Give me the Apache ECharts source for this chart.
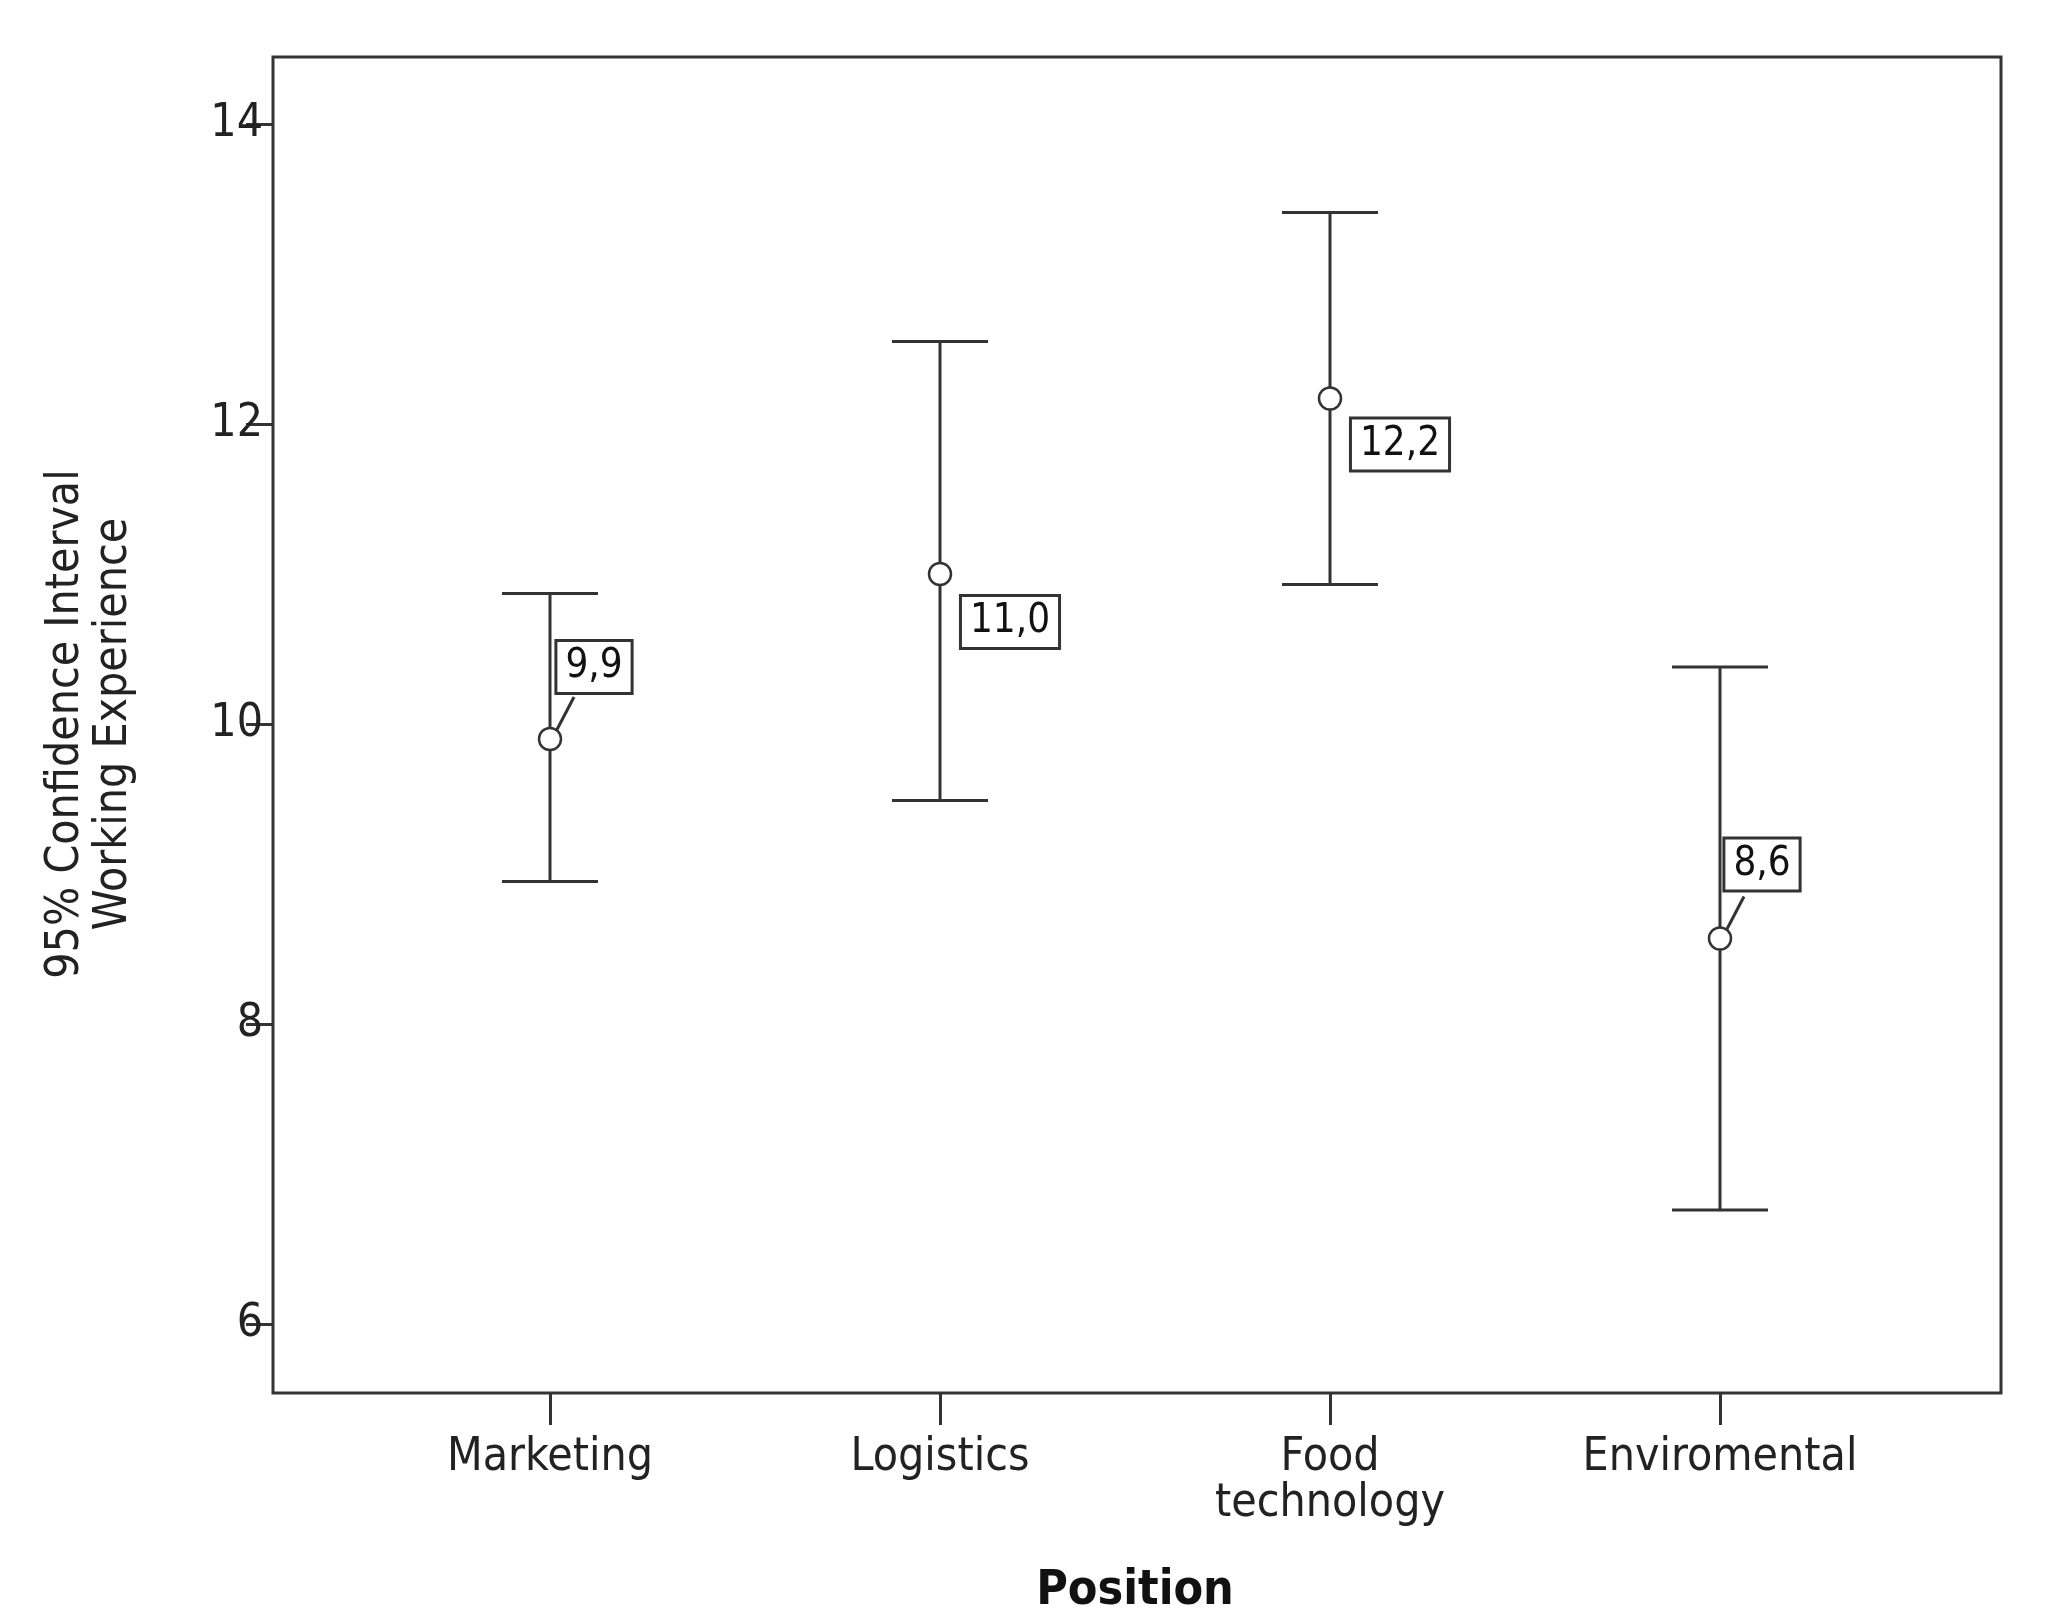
<!DOCTYPE html>
<html><head><meta charset="utf-8">
<script src="https://cdn.jsdelivr.net/npm/echarts@6/dist/echarts.min.js"></script>
<style>html,body{margin:0;padding:0;background:#fff}#chart{width:2071px;height:1624px}</style>
</head><body><div id="chart"></div>
<script>
const categories = ["Marketing", "Logistics", "Food\ntechnology", "Enviromental"];
const means = [9.9, 11.0, 12.17, 8.57];
const lower = [8.95, 9.49, 10.93, 6.76];
const upper = [10.87, 12.55, 13.41, 10.38];
const meanLabels = ["9,9", "11,0", "12,2", "8,6"];
const yTicks = [6, 8, 10, 12, 14];
// label placement: [dx, dy] of box from the point, and whether a leader line is drawn
const labelPos = [[44, -72, true], [70, 48, false], [70, 46, false], [42, -74, true]];

const FONT = "'DejaVu Sans Condensed', 'DejaVu Sans', sans-serif";
const INK = "#333";

const chart = echarts.init(document.getElementById("chart"));

// outer frame of the plot
const box = { left: 273, top: 57, right: 2001, bottom: 1393 };

const option = {
  animation: false,
  // grid spans the inner value range 6..14 and the category centres
  grid: { left: 550, right: 2071 - 1720, top: 124, bottom: 1624 - 1324 },
  graphic: [{
    type: "rect",
    shape: { x: box.left, y: box.top, width: box.right - box.left, height: box.bottom - box.top },
    style: { fill: "none", stroke: INK, lineWidth: 3 },
    z: 10
  }],
  xAxis: {
    type: "category",
    data: categories,
    boundaryGap: false,
    offset: box.bottom - 1324,
    name: "Position",
    nameLocation: "middle",
    nameGap: 175,
    nameTextStyle: { fontFamily: FONT, fontSize: 48, fontWeight: "bold", color: "#111" },
    axisLine: { show: false },
    axisTick: { show: true, inside: false, length: 32, alignWithLabel: true, lineStyle: { color: INK, width: 3 } },
    axisLabel: { fontFamily: FONT, fontSize: 46, color: "#222", margin: 42, lineHeight: 46, interval: 0 },
    splitLine: { show: false }
  },
  yAxis: {
    type: "value",
    min: yTicks[0],
    max: yTicks[yTicks.length - 1],
    interval: 2,
    offset: 550 - box.left,
    name: "95% Confidence Interval\nWorking Experience",
    nameLocation: "middle",
    nameGap: 135,
    nameTextStyle: { fontFamily: FONT, fontSize: 46, color: "#222", lineHeight: 48 },
    axisLine: { show: false },
    axisTick: { show: true, length: 27, lineStyle: { color: INK, width: 3 } },
    axisLabel: { fontFamily: FONT, fontSize: 46, color: "#222", margin: 10 },
    splitLine: { show: false }
  },
  series: [{
    type: "custom",
    clip: false,
    data: categories.map((c, i) => [i, lower[i], upper[i], means[i]]),
    renderItem: (params, api) => {
      const i = api.value(0);
      const lo = api.coord([i, api.value(1)]);
      const hi = api.coord([i, api.value(2)]);
      const mid = api.coord([i, api.value(3)]);
      const cap = 48, r = 11;
      const ls = { stroke: INK, lineWidth: 3 };
      const [dx, dy, leader] = labelPos[i];
      const children = [
        { type: "line", shape: { x1: hi[0], y1: hi[1], x2: mid[0], y2: mid[1] - r }, style: ls },
        { type: "line", shape: { x1: mid[0], y1: mid[1] + r, x2: lo[0], y2: lo[1] }, style: ls },
        { type: "line", shape: { x1: hi[0] - cap, y1: hi[1], x2: hi[0] + cap, y2: hi[1] }, style: ls },
        { type: "line", shape: { x1: lo[0] - cap, y1: lo[1], x2: lo[0] + cap, y2: lo[1] }, style: ls },
        { type: "circle", shape: { cx: mid[0], cy: mid[1], r: r }, style: { fill: "none", stroke: INK, lineWidth: 2.5 } },
        {
          type: "text", x: mid[0] + dx, y: mid[1] + dy, z2: 5,
          style: {
            text: meanLabels[i], fontFamily: FONT, fontSize: 40, fill: "#111",
            align: "center", verticalAlign: "middle",
            backgroundColor: "#fff", borderColor: INK, borderWidth: 3, padding: [6, 8, 4, 8]
          }
        }
      ];
      if (leader) {
        children.push({ type: "line", shape: { x1: mid[0] + r * 0.6, y1: mid[1] - r * 0.8, x2: mid[0] + 24, y2: mid[1] - 42 }, style: ls });
      }
      return { type: "group", children };
    }
  }]
};

chart.setOption(option);
</script>
</body></html>
